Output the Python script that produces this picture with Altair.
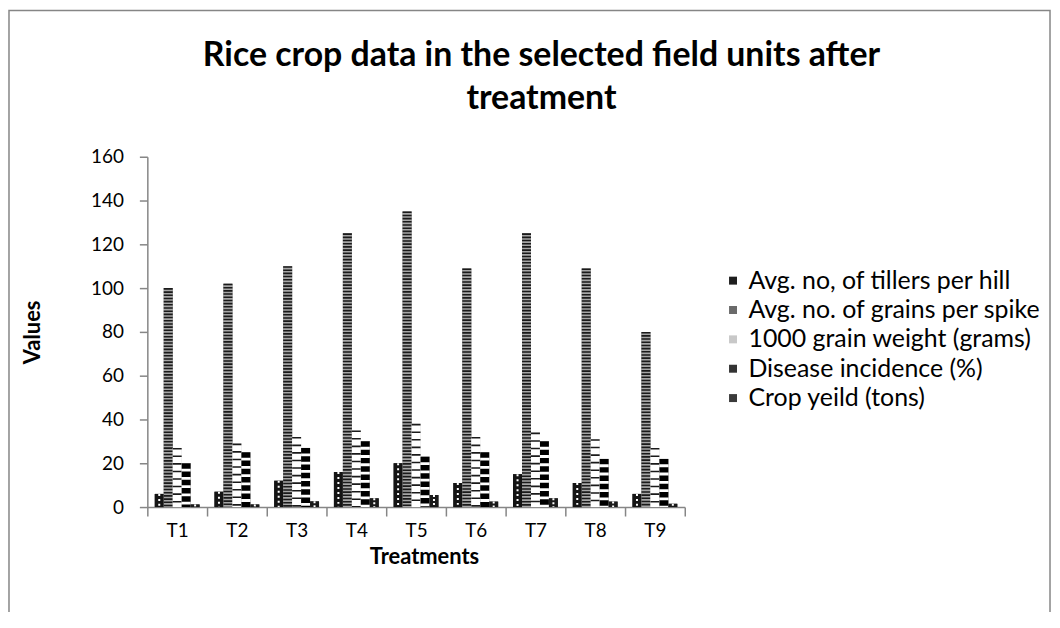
import altair as alt
import pandas as pd

treatments = ["T1", "T2", "T3", "T4", "T5", "T6", "T7", "T8", "T9"]
series_names = [
    "Avg. no, of tillers per hill",
    "Avg. no. of grains per spike",
    "1000 grain weight (grams)",
    "Disease incidence (%)",
    "Crop yeild (tons)",
]
tillers = [6, 7, 12, 16, 20, 11, 15, 11, 6]
grains = [100, 102, 110, 125, 135, 109, 125, 109, 80]
weight = [27, 29, 32, 35, 38, 32, 34, 31, 27]
disease = [20, 25, 27, 30, 23, 25, 30, 22, 22]
crop_yield = [1.2, 1.2, 2.6, 4, 5.5, 2.5, 4, 2.5, 1.5]

# legend swatch colours (average tone of each hatch pattern)
legend_colors = ["#1e1e1e", "#6a6a6a", "#c8c8c8", "#333333", "#3a3a3a"]
# bar background colours and hatch line styles
bg_colors = ["#141414", "#a6a6a6", "#ffffff", "#ffffff", "#1a1a1a"]
hatch_colors = ["#ffffff", "#1a1a1a", "#1a1a1a", "#000000", "#ffffff"]
hatch_dashes = [[2, 3], [1.6, 1.6], [1.6, 6], [5.5, 2.8], [2, 2]]
hatch_widths = [2, 9, 9, 9, 2]

rows = []
for name, vals in zip(series_names, [tillers, grains, weight, disease, crop_yield]):
    for t, v in zip(treatments, vals):
        rows.append({"Treatment": t, "Series": name, "Value": v})
df = pd.DataFrame(rows)

FONT = "Lato"
AXIS_GRAY = "#868686"

x_enc = alt.X("Treatment:N", sort=treatments,
              scale=alt.Scale(domain=treatments, paddingInner=0, paddingOuter=0),
              axis=alt.Axis(title="Treatments", labelAngle=0, tickBand="extent",
                            labelFontSize=19, labelFont=FONT, labelColor="black",
                            labelPadding=6, tickSize=9,
                            titleFontSize=22, titleFont=FONT, titleFontWeight="bold",
                            titleColor="black", titleX=278, titleY=50,
                            titleBaseline="middle", titleAlign="center"))
xoff_enc = alt.XOffset("Series:N", sort=series_names,
                       scale=alt.Scale(domain=series_names, paddingInner=0, paddingOuter=0.83))
y_enc = alt.Y("Value:Q",
              scale=alt.Scale(domain=[0, 160], nice=False),
              axis=alt.Axis(title="Values", values=list(range(0, 161, 20)), grid=False,
                            labelFontSize=19, labelFont=FONT, labelColor="black",
                            labelPadding=16, tickSize=8,
                            titleFontSize=22, titleFont=FONT, titleFontWeight="bold",
                            titleColor="black", titleAngle=270, titleX=-115, titleY=176,
                            titleBaseline="middle", titleAlign="center"))

base = alt.Chart(df).encode(x=x_enc, xOffset=xoff_enc, y=y_enc)

# solid swatch layer (carries the legend), fully covered by the hatched bars
legend_layer = base.mark_bar(strokeWidth=0).encode(
    color=alt.Color("Series:N", sort=series_names,
                    scale=alt.Scale(domain=series_names, range=legend_colors),
                    legend=alt.Legend(title=None, orient="none", legendX=576, legendY=112,
                                      symbolType="square", symbolSize=64, symbolStrokeWidth=0,
                                      labelFontSize=25, labelFont=FONT, labelColor="black",
                                      labelOffset=3, rowPadding=3.5, labelLimit=500)),
)

frame = alt.Chart(alt.Data(values=[{}])).mark_rect(filled=False, stroke=AXIS_GRAY, strokeWidth=1.5).encode(
    x=alt.value(-139), x2=alt.value(907), y=alt.value(-147), y2=alt.value(600)
)

title = alt.Chart(alt.Data(values=[{}])).mark_text(
    text=["Rice crop data in the selected field units after", "treatment"],
    font=FONT, fontSize=34, fontWeight="bold", color="black",
    align="center", baseline="middle", lineHeight=43,
).encode(x=alt.value(396), y=alt.value(-101))

layers = [frame, title, legend_layer]
for i, name in enumerate(series_names):
    sub = base.transform_filter(alt.datum.Series == name)
    layers.append(sub.mark_bar(fill=bg_colors[i], strokeWidth=0))
    layers.append(sub.mark_rule(stroke=hatch_colors[i], strokeDash=hatch_dashes[i],
                                strokeWidth=hatch_widths[i], strokeCap="butt").encode(y2=alt.datum(0)))

chart = alt.layer(*layers).properties(
    width=540, height=352,
    autosize=alt.AutoSizeParams(type="none"),
    padding={"left": 140, "top": 148, "right": 369, "bottom": 104},
).configure_view(stroke=None).configure_axis(
    domainColor=AXIS_GRAY, tickColor=AXIS_GRAY, domainWidth=1.5, tickWidth=1.5
)

chart.save("out.html", embed_options={"renderer": "svg", "actions": False})
